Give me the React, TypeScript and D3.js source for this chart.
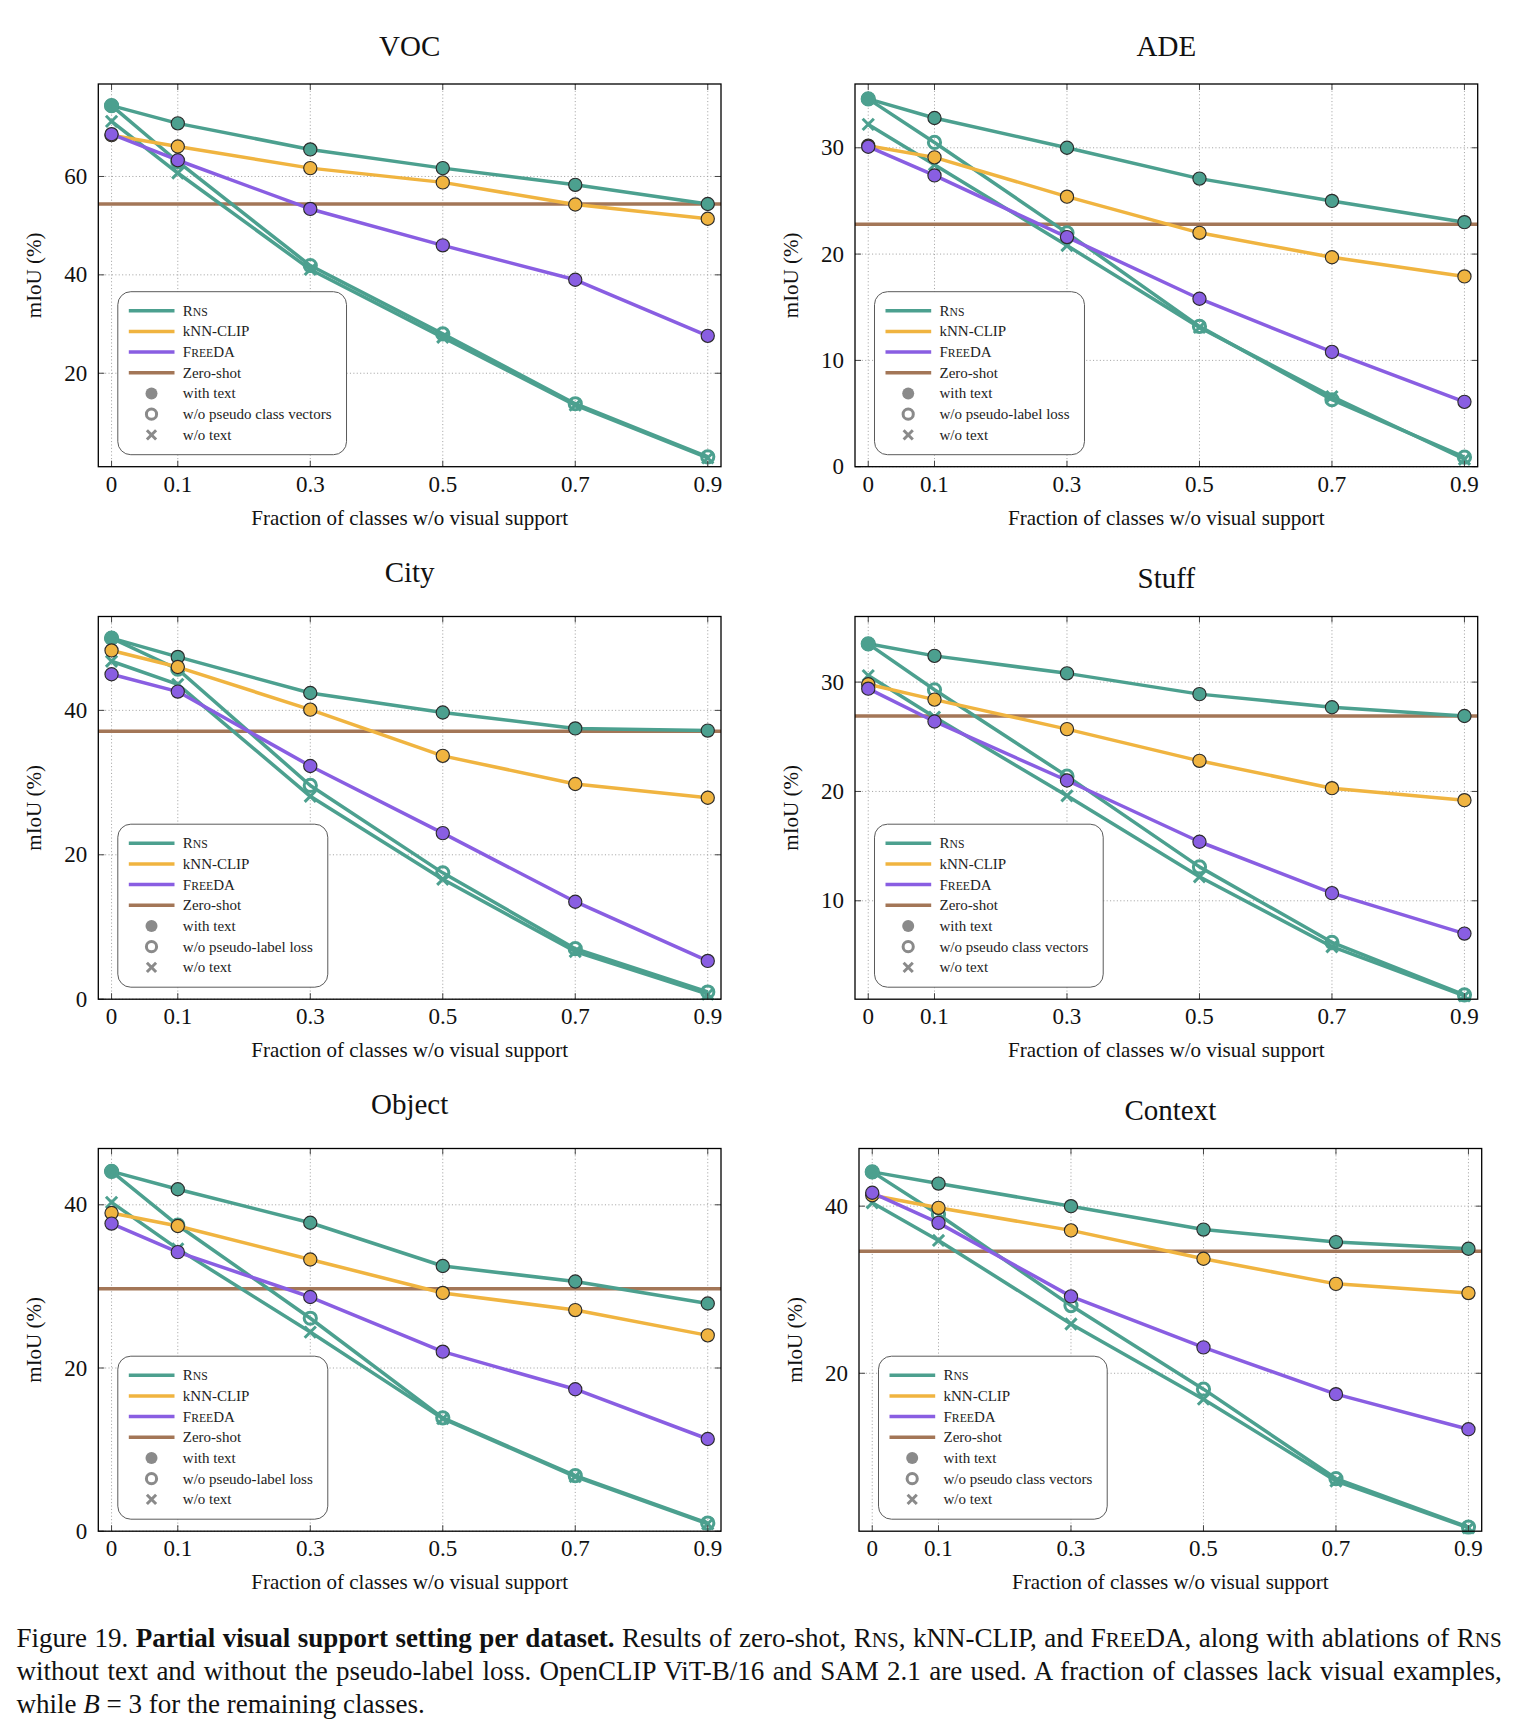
import { useEffect, useRef } from 'react';
import * as d3 from 'd3';

// Fraction of classes without visual support (x axis)
const fractions = [0, 0.1, 0.3, 0.5, 0.7, 0.9];
const xTickLabels = ['0', '0.1', '0.3', '0.5', '0.7', '0.9'];

// mIoU (%) per dataset, one value per fraction
const vocRns = [74.4, 70.8, 65.5, 61.7, 58.3, 54.4];
const vocNoPseudo = [74.4, 63.0, 41.9, 28.0, 13.8, 3.0];
const vocNoText = [71.2, 60.7, 41.1, 27.3, 13.5, 2.8];
const vocKnn = [68.4, 66.1, 61.7, 58.8, 54.3, 51.4];
const vocFreeda = [68.6, 63.3, 53.4, 46.0, 39.0, 27.6];
const vocZeroShot = 54.4;

const adeRns = [34.6, 32.8, 30.0, 27.1, 25.0, 23.0];
const adeNoPseudo = [34.6, 30.5, 22.0, 13.2, 6.3, 0.9];
const adeNoText = [32.2, 28.4, 20.8, 13.1, 6.6, 0.7];
const adeKnn = [30.2, 29.1, 25.4, 22.0, 19.7, 17.9];
const adeFreeda = [30.1, 27.4, 21.6, 15.8, 10.8, 6.1];
const adeZeroShot = 22.8;

const cityRns = [50.0, 47.4, 42.4, 39.7, 37.5, 37.2];
const cityNoPseudo = [50.0, 45.7, 29.6, 17.5, 7.0, 1.0];
const cityNoText = [46.8, 43.6, 28.1, 16.6, 6.6, 0.7];
const cityKnn = [48.3, 46.0, 40.1, 33.7, 29.8, 27.9];
const cityFreeda = [45.0, 42.6, 32.3, 23.0, 13.5, 5.3];
const cityZeroShot = 37.1;

const stuffRns = [33.5, 32.4, 30.8, 28.9, 27.7, 26.9];
const stuffNoPseudo = [33.5, 29.3, 21.4, 13.1, 6.2, 1.4];
const stuffNoText = [30.6, 26.8, 19.6, 12.2, 5.8, 1.3];
const stuffKnn = [29.8, 28.4, 25.7, 22.8, 20.3, 19.2];
const stuffFreeda = [29.4, 26.4, 21.0, 15.4, 10.7, 7.0];
const stuffZeroShot = 26.9;

const objectRns = [44.1, 41.9, 37.8, 32.5, 30.6, 27.9];
const objectNoPseudo = [44.1, 37.5, 26.1, 13.9, 6.8, 1.0];
const objectNoText = [40.3, 34.6, 24.4, 13.8, 6.7, 0.9];
const objectKnn = [39.0, 37.4, 33.3, 29.2, 27.1, 24.0];
const objectFreeda = [37.7, 34.2, 28.7, 22.0, 17.4, 11.3];
const objectZeroShot = 29.7;

const contextRns = [44.1, 42.7, 40.0, 37.2, 35.7, 34.9];
const contextNoPseudo = [44.1, 39.0, 28.1, 18.1, 7.4, 1.6];
const contextNoText = [40.4, 35.9, 25.9, 16.9, 7.1, 1.5];
const contextKnn = [41.3, 39.8, 37.1, 33.7, 30.7, 29.6];
const contextFreeda = [41.6, 38.0, 29.2, 23.1, 17.5, 13.3];
const contextZeroShot = 34.6;

// y ranges and tick values per dataset
const vocY = [1.0, 78.8];
const adeY = [0, 36];
const cityY = [0, 53];
const stuffY = [1.0, 36];
const objectY = [0, 46.9];
const contextY = [1.1, 46.9];
const vocTicks = [20, 40, 60];
const adeTicks = [0, 10, 20, 30];
const cityTicks = [0, 20, 40];
const stuffTicks = [10, 20, 30];
const objectTicks = [0, 20, 40];
const contextTicks = [20, 40];

const panels = [
  { title: 'VOC', yDomain: vocY, yTicks: vocTicks, rns: vocRns, noPseudo: vocNoPseudo, noText: vocNoText, knn: vocKnn, freeda: vocFreeda, zero: vocZeroShot, ablation: 'w/o pseudo class vectors' },
  { title: 'ADE', yDomain: adeY, yTicks: adeTicks, rns: adeRns, noPseudo: adeNoPseudo, noText: adeNoText, knn: adeKnn, freeda: adeFreeda, zero: adeZeroShot, ablation: 'w/o pseudo-label loss' },
  { title: 'City', yDomain: cityY, yTicks: cityTicks, rns: cityRns, noPseudo: cityNoPseudo, noText: cityNoText, knn: cityKnn, freeda: cityFreeda, zero: cityZeroShot, ablation: 'w/o pseudo-label loss' },
  { title: 'Stuff', yDomain: stuffY, yTicks: stuffTicks, rns: stuffRns, noPseudo: stuffNoPseudo, noText: stuffNoText, knn: stuffKnn, freeda: stuffFreeda, zero: stuffZeroShot, ablation: 'w/o pseudo class vectors' },
  { title: 'Object', yDomain: objectY, yTicks: objectTicks, rns: objectRns, noPseudo: objectNoPseudo, noText: objectNoText, knn: objectKnn, freeda: objectFreeda, zero: objectZeroShot, ablation: 'w/o pseudo-label loss' },
  { title: 'Context', yDomain: contextY, yTicks: contextTicks, rns: contextRns, noPseudo: contextNoPseudo, noText: contextNoText, knn: contextKnn, freeda: contextFreeda, zero: contextZeroShot, ablation: 'w/o pseudo class vectors' },
];

const colors = {
  rns: '#4CA08F',
  knn: '#F0B440',
  freeda: '#895EE2',
  zero: '#A37657',
  gray: '#8a8a8a',
  edge: '#2b2b2b',
};

const FONT = '"Liberation Serif", "Times New Roman", serif';
const W = 1516;
const H = 1735;
const plotW = 622.7;
const plotH = 382.7;
const panelLefts = [98.3, 855, 98.3, 855, 98.3, 859];
const rowTops = [84, 616.5, 1148.5];
const xExtent = [-0.02, 0.92];
const lineW = 3.5;

const captionLeft = 16.6;
const captionRight = 1501.7;

let measureCtx: CanvasRenderingContext2D | null = null;
function textWidth(s: string, font: string) {
  if (!measureCtx) measureCtx = document.createElement('canvas').getContext('2d');
  if (!measureCtx) return s.length * 7;
  measureCtx.font = font;
  return measureCtx.measureText(s).width;
}

function Marker({ kind, cx, cy, color, r = 6 }: any) {
  if (kind === 'filled') {
    return <circle cx={cx} cy={cy} r={r} fill={color} stroke={colors.edge} strokeWidth={1.15} />;
  }
  if (kind === 'open') {
    return <circle cx={cx} cy={cy} r={r - 0.5} fill="none" stroke={color} strokeWidth={3} />;
  }
  const h = r - 1;
  return (
    <path
      d={`M${cx - h},${cy - h}L${cx + h},${cy + h}M${cx - h},${cy + h}L${cx + h},${cy - h}`}
      stroke={color}
      strokeWidth={3}
      fill="none"
    />
  );
}

function SmallCaps({ first, rest, tail = '', size }: any) {
  return (
    <>
      {first}
      <tspan fontSize={size * 0.78}>{rest}</tspan>
      {tail}
    </>
  );
}

function Legend({ left, bottom, ablation }: any) {
  const fs = 15;
  const rowGap = 20.7;
  const textW = Math.max(
    textWidth(ablation, `${fs}px ${FONT}`),
    textWidth('w/o text', `${fs}px ${FONT}`),
  );
  const w = 65 + textW + 15;
  const h = 163;
  const top = bottom - h;
  const rows = [
    { kind: 'line', color: colors.rns, label: <SmallCaps first="R" rest="NS" size={fs} /> },
    { kind: 'line', color: colors.knn, label: 'kNN-CLIP' },
    { kind: 'line', color: colors.freeda, label: <SmallCaps first="F" rest="REE" tail="DA" size={fs} /> },
    { kind: 'line', color: colors.zero, label: 'Zero-shot' },
    { kind: 'filled', color: colors.gray, label: 'with text' },
    { kind: 'open', color: colors.gray, label: ablation },
    { kind: 'cross', color: colors.gray, label: 'w/o text' },
  ];
  return (
    <g>
      <rect x={left} y={top} width={w} height={h} rx={13} ry={13} fill="#fff" stroke="#5a5a5a" strokeWidth={1} />
      {rows.map((row, i) => {
        const cy = top + 19 + i * rowGap;
        return (
          <g key={i}>
            {row.kind === 'line' ? (
              <line x1={left + 11} x2={left + 56.7} y1={cy} y2={cy} stroke={row.color} strokeWidth={lineW} />
            ) : row.kind === 'filled' ? (
              <circle cx={left + 33.7} cy={cy} r={6} fill={row.color} />
            ) : (
              <Marker kind={row.kind} cx={left + 33.7} cy={cy} color={row.color} r={5.6} />
            )}
            <text x={left + 65} y={cy} dy="0.33em" fontSize={fs} fill="#222">
              {row.label}
            </text>
          </g>
        );
      })}
    </g>
  );
}

function Panel({ panel, left, top }: any) {
  const x = d3.scaleLinear().domain(xExtent).range([left, left + plotW]);
  const y = d3.scaleLinear().domain(panel.yDomain).range([top + plotH, top]);
  const line = d3
    .line<number>()
    .x((_, i) => x(fractions[i]))
    .y((v) => y(v));
  const right = left + plotW;
  const bottom = top + plotH;
  const cx = left + plotW / 2;
  const titleY = top - 28.5 - (/[gjpqy]/.test(panel.title) ? 6 : 0);

  const series = [
    { key: 'rns', values: panel.rns, color: colors.rns, kind: 'filled' },
    { key: 'noPseudo', values: panel.noPseudo, color: colors.rns, kind: 'open' },
    { key: 'noText', values: panel.noText, color: colors.rns, kind: 'cross' },
    { key: 'knn', values: panel.knn, color: colors.knn, kind: 'filled' },
    { key: 'freeda', values: panel.freeda, color: colors.freeda, kind: 'filled' },
  ];

  return (
    <g>
      <text x={cx} y={titleY} textAnchor="middle" fontSize={29} fill="#111">
        {panel.title}
      </text>

      {/* dotted grid */}
      <g stroke="#9d9d9d" strokeWidth={0.9} strokeDasharray="1.1 2.3">
        {fractions.map((f) => (
          <line key={`gx${f}`} x1={x(f)} x2={x(f)} y1={top} y2={bottom} />
        ))}
        {panel.yTicks.map((t: number) => (
          <line key={`gy${t}`} x1={left} x2={right} y1={y(t)} y2={y(t)} />
        ))}
      </g>

      {/* zero-shot reference */}
      <line x1={x.range()[0]} x2={x.range()[1]} y1={y(panel.zero)} y2={y(panel.zero)} stroke={colors.zero} strokeWidth={lineW} />

      {series.map((s) => (
        <g key={s.key}>
          <path d={line(s.values) || ''} fill="none" stroke={s.color} strokeWidth={lineW} strokeLinejoin="round" />
          {s.values.map((v: number, i: number) => (
            <Marker key={i} kind={s.kind} cx={x(fractions[i])} cy={y(v)} color={s.color} r={6.6} />
          ))}
        </g>
      ))}

      <Legend left={left + 19.5} bottom={bottom - 12} ablation={panel.ablation} />

      {/* axis frame and ticks */}
      <g stroke="#444" strokeWidth={1}>
        {fractions.map((f) => (
          <g key={`tx${f}`}>
            <line x1={x(f)} x2={x(f)} y1={bottom} y2={bottom - 6} />
            <line x1={x(f)} x2={x(f)} y1={top} y2={top + 6} />
          </g>
        ))}
        {panel.yTicks.map((t: number) => (
          <g key={`ty${t}`}>
            <line x1={left} x2={left + 6} y1={y(t)} y2={y(t)} />
            <line x1={right} x2={right - 6} y1={y(t)} y2={y(t)} />
          </g>
        ))}
      </g>
      <rect x={left} y={top} width={plotW} height={plotH} fill="none" stroke="#000" strokeWidth={1.3} />

      {fractions.map((f, i) => (
        <text key={`lx${f}`} x={x(f)} y={bottom + 25} textAnchor="middle" fontSize={23} fill="#111">
          {xTickLabels[i]}
        </text>
      ))}
      {panel.yTicks.map((t: number) => (
        <text key={`ly${t}`} x={left - 11} y={y(t)} dy="0.33em" textAnchor="end" fontSize={23} fill="#111">
          {String(t)}
        </text>
      ))}

      <text x={cx} y={bottom + 58} textAnchor="middle" fontSize={21} fill="#111">
        Fraction of classes w/o visual support
      </text>
      <text
        transform={`translate(${left - 64.3},${top + plotH / 2}) rotate(-90)`}
        dy="0.33em"
        textAnchor="middle"
        fontSize={21}
        fill="#111"
      >
        mIoU (%)
      </text>
    </g>
  );
}

export default function App() {
  const capRefs = useRef<(SVGTextElement | null)[]>([]);

  // stretch the first two caption lines to the full text width
  useEffect(() => {
    capRefs.current.forEach((el, i) => {
      if (!el || i > 1) return;
      el.style.wordSpacing = '0px';
      const natural = el.getComputedTextLength();
      const gaps = (el.textContent || '').split(' ').length - 1;
      if (gaps > 0) el.style.wordSpacing = `${(captionRight - captionLeft - natural) / gaps}px`;
    });
  }, []);

  const capFs = 27;
  const sc = capFs * 0.78;

  return (
    <svg
      width={W}
      height={H}
      viewBox={`0 0 ${W} ${H}`}
      style={{ position: 'absolute', left: 0, top: 0, display: 'block', background: '#fff' }}
      fontFamily={FONT}
    >
      <rect width={W} height={H} fill="#fff" />
      {panels.map((p, i) => (
        <Panel key={p.title} panel={p} left={panelLefts[i]} top={rowTops[Math.floor(i / 2)]} />
      ))}

      <g fontSize={capFs} fill="#111">
        <text ref={(el) => { capRefs.current[0] = el; }} x={captionLeft} y={1646.6}>
          {'Figure 19. '}
          <tspan fontWeight="bold">Partial visual support setting per dataset.</tspan>
          {' Results of zero-shot, R'}
          <tspan fontSize={sc}>NS</tspan>
          {', kNN-CLIP, and F'}
          <tspan fontSize={sc}>REE</tspan>
          {'DA, along with ablations of R'}
          <tspan fontSize={sc}>NS</tspan>
        </text>
        <text ref={(el) => { capRefs.current[1] = el; }} x={captionLeft} y={1680}>
          without text and without the pseudo-label loss. OpenCLIP ViT-B/16 and SAM 2.1 are used. A fraction of classes lack visual examples,
        </text>
        <text ref={(el) => { capRefs.current[2] = el; }} x={captionLeft} y={1713}>
          {'while '}
          <tspan fontStyle="italic">B</tspan>
          {' = 3 for the remaining classes.'}
        </text>
      </g>
    </svg>
  );
}
